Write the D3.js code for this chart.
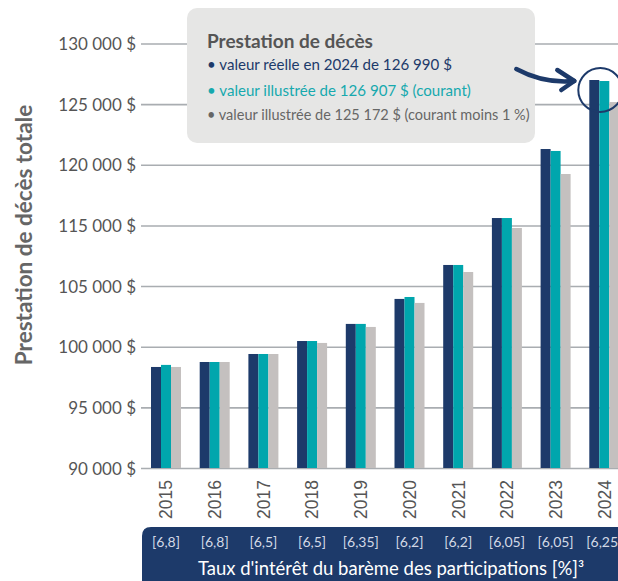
<!DOCTYPE html>
<html>
<head>
<meta charset="utf-8">
<script src="https://cdn.jsdelivr.net/npm/d3@7/dist/d3.min.js"></script>
<style>
  html, body { margin: 0; padding: 0; background: #fff; }
  svg { display: block; }
</style>
</head>
<body>
<svg id="chart" width="618" height="581"></svg>
<script>
// ---- Data ----
const years = ["2015","2016","2017","2018","2019","2020","2021","2022","2023","2024"];
const rates = ["[6,8]","[6,8]","[6,5]","[6,5]","[6,35]","[6,2]","[6,2]","[6,05]","[6,05]","[6,25]"];
const seriesNames = ["reelle","courant","moins1"];
const reelle  = [103330, 103740, 104400, 105470, 106880, 108940, 111740, 115610, 121300, 126990];
const courant = [103500, 103740, 104400, 105470, 106880, 109100, 111740, 115610, 121140, 126907];
const moins1  = [103330, 103740, 104400, 105310, 106630, 108610, 111160, 114790, 119240, 125172];
const yTicks = [95000, 100000, 105000, 110000, 115000, 120000, 125000, 130000];
const yTickLabels = ["90 000 $","95 000 $","100 000 $","105 000 $","115 000 $","120 000 $","125 000 $","130 000 $"];
const yTitle = "Prestation de décès totale";
const bandTitle = "Taux d'intérêt du barème des participations [%]³";
const legendTitle = "Prestation de décès";
const legendLines = [
  "• valeur réelle en 2024 de 126 990 $",
  "• valeur illustrée de 126 907 $ (courant)",
  "• valeur illustrée de 125 172 $ (courant moins 1\u202F%)"
];

const colors = { reelle: "#1d3a6a", courant: "#00a6ad", moins1: "#c4c0bf" };
const navy = "#1d3a6a";

const svg = d3.select("#chart");
const plotLeft = 141, plotRight = 618, yBase = 468, yTop = 43.5;

const x = d3.scaleBand().domain(years).range([141.5, 628.8]).paddingInner(0.384).paddingOuter(0.195);
const xs = d3.scaleBand().domain(seriesNames).range([0, x.bandwidth()]).padding(0);
const y = d3.scaleLinear().domain([95000, 130000]).range([yBase, yTop]);

const rows = years.map((yr, i) => ({ year: yr, reelle: reelle[i], courant: courant[i], moins1: moins1[i] }));

// ---- Gridlines + y labels ----
const yAxis = d3.axisLeft(y)
  .tickValues(yTicks)
  .tickFormat((d, i) => yTickLabels[i])
  .tickSizeInner(-(plotRight - plotLeft))
  .tickSizeOuter(0)
  .tickPadding(5);
const gy = svg.append("g").attr("transform", `translate(${plotLeft},0)`).call(yAxis);
gy.select(".domain").remove();
gy.selectAll(".tick line").attr("stroke", "#a9adb1").attr("stroke-width", 1.6);
gy.selectAll(".tick text")
  .attr("fill", "#555")
  .attr("font-family", "Lato, 'Open Sans', sans-serif")
  .attr("font-size", "17px")
  .attr("dy", "0.36em");

// ---- Bars ----
const groups = svg.append("g").selectAll("g").data(rows).join("g")
  .attr("transform", d => `translate(${x(d.year)},0)`);
groups.selectAll("rect")
  .data(d => seriesNames.map(k => ({ key: k, value: d[k] })))
  .join("rect")
  .attr("x", d => xs(d.key))
  .attr("width", xs.bandwidth())
  .attr("y", d => y(d.value))
  .attr("height", d => yBase - y(d.value))
  .attr("fill", d => colors[d.key]);

// ---- Year labels ----
svg.append("g").selectAll("text").data(years).join("text")
  .attr("transform", d => `translate(${x(d) + x.bandwidth() / 2},480) rotate(-90)`)
  .attr("text-anchor", "end")
  .attr("dy", "0.36em")
  .attr("fill", "#555")
  .attr("font-family", "'Liberation Sans', Arial, sans-serif")
  .attr("font-size", "17.5px")
  .text(d => d);

// ---- Bottom band ----
const bandTop = 527;
svg.append("path")
  .attr("d", `M${plotLeft + 1},${bandTop + 9} Q${plotLeft + 1},${bandTop} ${plotLeft + 10},${bandTop} L630,${bandTop} L630,590 L${plotLeft + 1},590 Z`)
  .attr("fill", navy);
svg.append("g").selectAll("text").data(years).join("text")
  .attr("x", (d) => x(d) + x.bandwidth() / 2)
  .attr("y", 547)
  .attr("text-anchor", "middle")
  .attr("fill", "#d3d9e6")
  .attr("font-family", "Lato, sans-serif")
  .attr("font-size", "14px")
  .text((d, i) => rates[i]);
svg.append("text")
  .attr("x", 391)
  .attr("y", 575)
  .attr("text-anchor", "middle")
  .attr("fill", "#fff")
  .attr("font-family", "Lato, sans-serif")
  .attr("font-size", "18.5px")
  .text(bandTitle);

// ---- Y title ----
svg.append("text")
  .attr("transform", `translate(32,235) rotate(-90)`)
  .attr("text-anchor", "middle")
  .attr("fill", "#666")
  .attr("font-family", "Lato, sans-serif")
  .attr("font-weight", "bold")
  .attr("font-size", "22.5px")
  .text(yTitle);

// ---- Legend box ----
const lg = svg.append("g");
lg.append("rect")
  .attr("x", 187).attr("y", 8).attr("width", 348).attr("height", 135)
  .attr("rx", 10).attr("fill", "#e6e6e5");
lg.append("text")
  .attr("x", 207).attr("y", 48)
  .attr("fill", "#555")
  .attr("font-family", "Lato, sans-serif")
  .attr("font-weight", "bold")
  .attr("font-size", "19px")
  .text(legendTitle);
const legendColors = [navy, "#16a9ae", "#666"];
const legendSizes = ["15.1px", "15.1px", "14.5px"];
const legendY = [70, 95.5, 120];
lg.selectAll("text.item").data(legendLines).join("text")
  .attr("class", "item")
  .attr("x", 207)
  .attr("y", (d, i) => legendY[i])
  .attr("fill", (d, i) => legendColors[i])
  .attr("font-family", "Lato, sans-serif")
  .attr("font-size", (d, i) => legendSizes[i])
  .text(d => d);

// ---- Arrow + circle highlighting 2024 ----
const cx = x("2024") + xs.bandwidth() * 1.1;
const cy = y(126990) + 10;
svg.append("circle")
  .attr("cx", cx).attr("cy", cy).attr("r", 22)
  .attr("fill", "none").attr("stroke", navy).attr("stroke-width", 2);
const tipX = cx - 26, tipY = cy - 9;
svg.append("path")
  .attr("d", `M${tipX - 58},${tipY - 12} Q${tipX - 30},${tipY + 3} ${tipX},${tipY}`)
  .attr("fill", "none").attr("stroke", navy).attr("stroke-width", 4.5).attr("stroke-linecap", "round");
svg.append("path")
  .attr("d", `M${tipX - 17},${tipY - 11} L${tipX},${tipY} L${tipX - 13},${tipY + 9}`)
  .attr("fill", "none").attr("stroke", navy).attr("stroke-width", 4.5)
  .attr("stroke-linecap", "round").attr("stroke-linejoin", "round");
</script>
</body>
</html>
